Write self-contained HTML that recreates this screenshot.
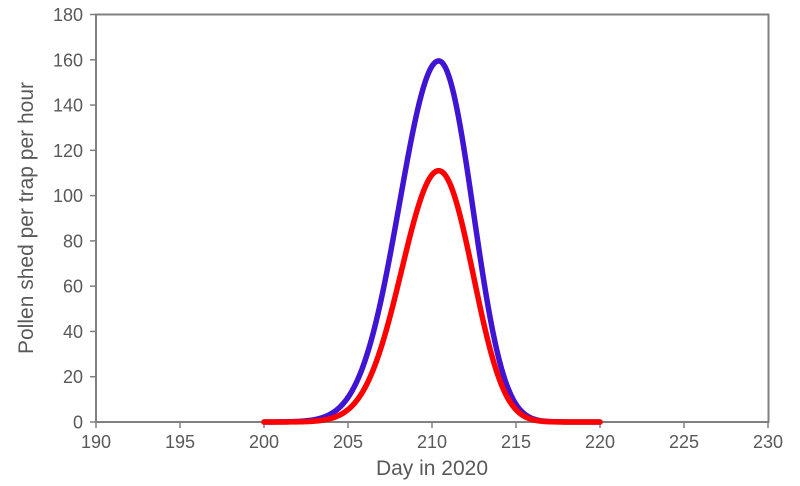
<!DOCTYPE html>
<html><head><meta charset="utf-8"><style>
html,body{margin:0;padding:0;background:#fff;}
svg{display:block;font-family:"Liberation Sans",Arial,sans-serif;}
</style></head><body>
<svg id="s" width="800" height="486" xmlns="http://www.w3.org/2000/svg">
<rect x="0" y="0" width="800" height="486" fill="#fff"/>
<g id="ax" stroke="#808080" stroke-width="2" fill="none">
<rect x="96" y="14.5" width="672.5" height="407.5"/>
</g>
<g id="ticks" stroke="#808080" stroke-width="1.5"></g>
<g id="labels" fill="#595959" font-size="18"></g>
<g id="curves" fill="none" stroke-width="5.5" stroke-linejoin="round" stroke-linecap="round"></g>
<text x="432" y="475" font-size="21" fill="#595959" text-anchor="middle">Day in 2020</text>
<text transform="translate(33,218) rotate(-90)" font-size="21" fill="#595959" text-anchor="middle">Pollen shed per trap per hour</text>
</svg>
<script>
var NS="http://www.w3.org/2000/svg";
function X(d){return 96+(d-190)*16.8;}
function Y(v){return 422-v*(407.5/180);}
function el(p,t,a,txt){var e=document.createElementNS(NS,t);for(var k in a)e.setAttribute(k,a[k]);if(txt!==undefined)e.textContent=txt;document.getElementById(p).appendChild(e);}
for(var d=190;d<=230;d+=5){el("ticks","line",{x1:X(d),x2:X(d),y1:422,y2:428});el("labels","text",{x:X(d),y:448,"text-anchor":"middle"},d);}
for(var v=0;v<=180;v+=20){el("ticks","line",{x1:90,x2:96,y1:Y(v),y2:Y(v)});el("labels","text",{x:83,y:Y(v)+6.5,"text-anchor":"end"},v);}
function f(d,sl){var c=210.4,dd=d-c,s;if(dd<0){s=sl;}else s=Math.max(1.8,2.08-0.045*dd);return Math.exp(-dd*dd/(2*s*s));}
function path(pk,col,sl){var p="";for(var d=200;d<=220.001;d+=0.05){p+=(p?"L":"M")+X(d).toFixed(2)+","+Y(pk*f(d,sl)).toFixed(2);}el("curves","path",{d:p,stroke:col});}
path(159.5,"#3f14d2",2.33);
path(111,"#ff0000",2.2);
</script>
</body></html>
